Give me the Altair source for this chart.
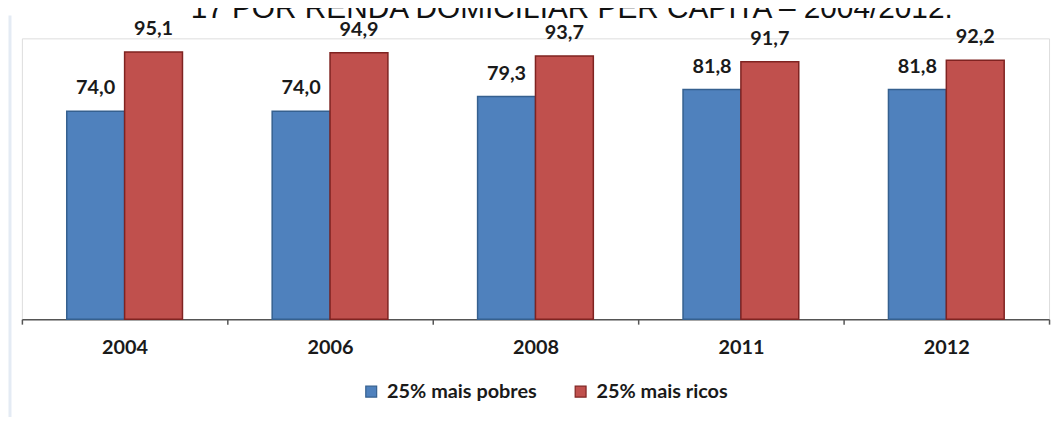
import altair as alt
import pandas as pd

years = ["2004", "2006", "2008", "2011", "2012"]
pobres = [74.0, 74.0, 79.3, 81.8, 81.8]
ricos = [95.1, 94.9, 93.7, 91.7, 92.2]
series = ["25% mais pobres", "25% mais ricos"]
colors = ["#4f81bd", "#c0504d"]
strokes = ["#35608f", "#7f2321"]
title_text = "17 POR RENDA DOMICILIAR PER CAPITA – 2004/2012."

rows = []
for i, y in enumerate(years):
    for s, vals in zip(series, [pobres, ricos]):
        v = vals[i]
        rows.append({"ano": y, "grupo": s, "valor": v,
                     "rotulo": f"{v:.1f}".replace(".", ",")})
df = pd.DataFrame(rows)

W, H = 1035, 283
FONT = "Lato"

x = alt.X("ano:N", sort=years, title=None,
          scale=alt.Scale(paddingInner=0, paddingOuter=0),
          axis=alt.Axis(labelAngle=0, labelFont=FONT, labelFontWeight="bold",
                        labelFontSize=20, labelColor="#1a1a1a", labelPadding=14,
                        domainColor="#555555", domainWidth=1.5,
                        tickColor="#555555", tickWidth=1.5, tickSize=5,
                        tickBand="extent", grid=False))
xo = alt.XOffset("grupo:N", sort=series,
                 scale=alt.Scale(paddingOuter=0.775, paddingInner=0))
y = alt.Y("valor:Q", scale=alt.Scale(domain=[0, 100], nice=False), axis=None, title=None)

base = alt.Chart(df)

bars = base.mark_bar(strokeWidth=1.5).encode(
    x=x, xOffset=xo, y=y,
    color=alt.Color("grupo:N", sort=series, title=None,
                    scale=alt.Scale(domain=series, range=colors),
                    legend=alt.Legend(orient="none", legendX=342, legendY=346,
                                      direction="horizontal", symbolType="square",
                                      symbolSize=120, symbolStrokeWidth=1.2,
                                      labelFont=FONT, labelFontWeight="bold",
                                      labelFontSize=20, labelColor="#1a1a1a",
                                      columnPadding=34, labelOffset=6)),
    stroke=alt.Stroke("grupo:N", sort=series,
                      scale=alt.Scale(domain=series, range=strokes), legend=None),
)

labels = base.mark_text(baseline="alphabetic", dy=-17, font=FONT, fontWeight="bold",
                        fontSize=20, color="#1a1a1a").encode(
    x=x, xOffset=xo, y=y, text="rotulo:N")

title = alt.Chart(pd.DataFrame({"t": [title_text]})).mark_text(
    font="Liberation Sans", fontSize=30, color="#111111", baseline="alphabetic",
    align="center").encode(
    x=alt.value(554), y=alt.value(-20), text="t:N")

frame = alt.Chart(pd.DataFrame({"a": [0]})).mark_rule(
    color="#e4ebf4", strokeWidth=3).encode(
    x=alt.value(-12), y=alt.value(-23), y2=alt.value(H + 110))

chart = alt.layer(frame, bars, labels, title).properties(
    width=W, height=H,
    autosize=alt.AutoSizeParams(type="none"),
    padding={"left": 14, "top": 29, "right": 5, "bottom": 97},
).configure_view(stroke=None).configure(background="white")

chart.save("out.html", embed_options={"renderer": "svg", "actions": False})
